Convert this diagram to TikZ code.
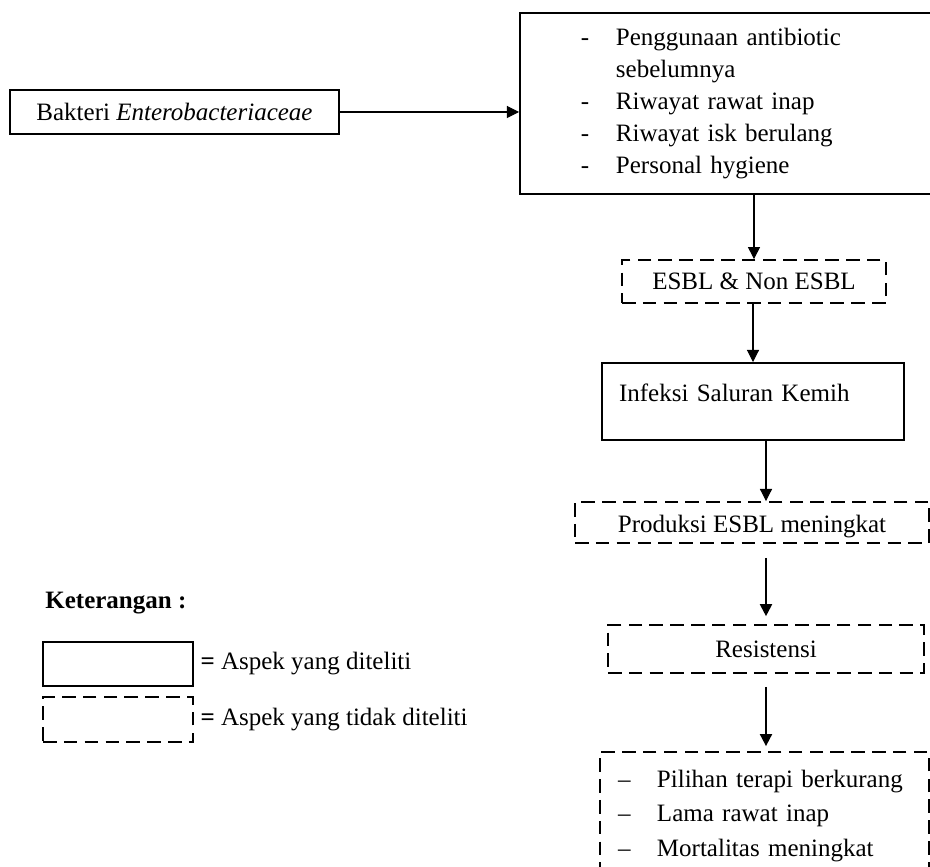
\documentclass[tikz,border=0pt]{standalone}
\usepackage{fontspec}
\setmainfont{Liberation Serif}
\usepackage{tikz}
\usetikzlibrary{arrows.meta}

\newcommand{\butir}[1]{\makebox[16.8pt][l]{-}#1}
\newcommand{\lanjut}[1]{\hspace*{16.8pt}#1}
\newcommand{\akibat}[1]{\makebox[18.7pt][l]{--}#1}

\begin{document}
\begin{tikzpicture}[x=0.48pt, y=-0.48pt,
    every node/.style={font=\fontsize{12}{15.4}\selectfont},
    kotak/.style={shape=rectangle, draw, line width=0.9pt, inner sep=0pt},
    putus/.style={kotak, dash pattern=on 6.5pt off 3.5pt},
    panah/.style={-{Triangle[length=5.8pt, width=5.8pt]}, line width=0.5pt},
    panahtebal/.style={panah, line width=0.9pt}]
    \useasboundingbox (0,0) rectangle (930,867);

    % alur utama
    \node[kotak, minimum width=157.9pt, minimum height=21.1pt] (bakteri) at (174.5,112) {Bakteri \textit{Enterobacteriaceae}};
    \node[kotak, anchor=north west, minimum height=86.9pt, text width=143.5pt, inner xsep=29.3pt, align=left] (faktor) at (519,12)
        {\butir{Penggunaan antibiotic}\\ \lanjut{sebelumnya}\\ \butir{Riwayat rawat inap}\\ \butir{Riwayat isk berulang}\\ \butir{Personal hygiene}};
    \node[putus, minimum width=126.7pt, minimum height=20.6pt] (esbl) at (754,281.5) {ESBL \& Non ESBL};
    \node[kotak, minimum height=37pt, text width=128.6pt, inner xsep=8.2pt, align=left, text height=8pt, text depth=8pt] (infeksi) at (753,401.5) {Infeksi Saluran Kemih};
    \node[putus, minimum width=169.9pt, minimum height=19.7pt, text height=10pt, text depth=0pt] (produksi) at (752,522.5) {Produksi ESBL meningkat};
    \node[putus, minimum width=151.7pt, minimum height=23pt] (resistensi) at (766,649) {Resistensi};
    \node[putus, minimum height=61.4pt, text width=140.6pt, inner xsep=8.6pt, align=left, font=\fontsize{12}{16.6}\selectfont] (dampak) at (764.5,816)
        {\akibat{Pilihan terapi berkurang}\\ \akibat{Lama rawat inap}\\ \akibat{Mortalitas meningkat}};

    \draw[panah] (bakteri.east) -- (faktor.west |- bakteri.east);
    \draw[panah] (esbl.north |- faktor.south) -- (esbl.north);
    \draw[panah] (infeksi.north |- esbl.south) -- (infeksi.north);
    \draw[panah] (resistensi.north |- infeksi.south) -- (resistensi.north |- produksi.north);
    \draw[panahtebal, shorten <=6.7pt, shorten >=3.8pt] (produksi.south -| resistensi.north) -- (resistensi.north);
    \draw[panahtebal, shorten <=6.2pt, shorten >=2.4pt] (resistensi.south) -- (resistensi.south |- dampak.north);

    % keterangan
    \node[anchor=west, inner sep=0pt, font=\bfseries\fontsize{12}{15.4}\selectfont] (keterangan) at (45,603) {Keterangan :};
    \node[kotak, minimum width=72pt, minimum height=21.1pt] (diteliti) at (118,664) {};
    \node[putus, minimum width=72pt, minimum height=21.6pt] (tidakditeliti) at (118,719.5) {};
    \node[anchor=west, inner sep=3pt] (teksditeliti) at (diteliti.east) {\textbf{=} Aspek yang diteliti};
    \node[anchor=west, inner sep=3pt] (tekstidak) at (tidakditeliti.east) {\textbf{=} Aspek yang tidak diteliti};
\end{tikzpicture}
\end{document}
